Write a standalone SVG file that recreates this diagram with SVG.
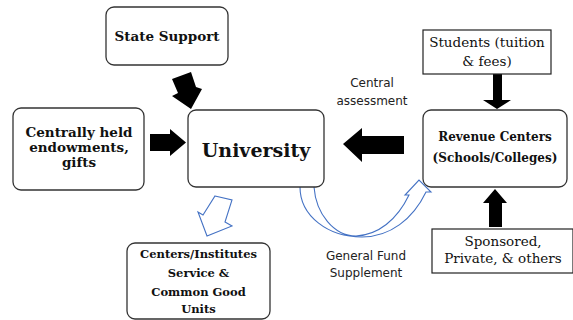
<svg xmlns="http://www.w3.org/2000/svg" width="573" height="320" viewBox="0 0 573 320">
  <style>
    .box { fill: #ffffff; stroke: #333333; stroke-width: 1.3; }
    .sq { fill: #ffffff; stroke: #222222; stroke-width: 1.2; }
    .bold { font-family: "DejaVu Serif", "Liberation Serif", serif; font-weight: bold; fill: #111111; text-anchor: middle; }
    .plain { font-family: "DejaVu Serif", "Liberation Serif", serif; fill: #111111; text-anchor: middle; }
    .sans { font-family: "DejaVu Sans", "Liberation Sans", sans-serif; fill: #222222; text-anchor: middle; font-size: 12px; }
    .solid { fill: #000000; stroke: none; }
    .hollow { fill: none; stroke: #4472c4; stroke-width: 1.1; stroke-linejoin: miter; }
  </style>

  <rect width="573" height="320" fill="#ffffff"/>

  <!-- flows between the funding sources and the university -->
  <g id="connectors">
    <!-- state support into university -->
    <polygon class="solid" points="172,79 191,72 196,87 202,89 191,109 172,96 178,93"/>
    <!-- endowments into university -->
    <polygon class="solid" points="150,134 170,134 170,129 186,142.5 170,156 170,151 150,151"/>
    <!-- central assessment from revenue centers -->
    <polygon class="solid" points="404,136 362,136 362,128 343,144 362,162 362,154 404,154"/>
    <!-- students into revenue centers -->
    <polygon class="solid" points="493,74 502,74 502,100 511,100 497,109 483,100 493,100"/>
    <!-- sponsored into revenue centers -->
    <polygon class="solid" points="489,227 502,227 502,203 507,203 495,189 483,203 489,203"/>
    <!-- university out to centers/institutes -->
    <polygon class="hollow" points="215,196 232,200 225,222 232,226 207,236 198,212 203,215"/>
    <!-- general fund supplement back to revenue centers -->
    <path class="hollow" d="M300,187 C300,216 328,237 362,237 C390,237 413,219 426,192 L431,192 L419,180 L405,195 L409,195 C397,220 378,235 356,236 C334,236 316,214 314,187"/>
    <text class="sans" x="372" y="87">Central</text>
    <text class="sans" x="372" y="105">assessment</text>
    <text class="sans" x="366" y="260">General Fund</text>
    <text class="sans" x="366" y="277">Supplement</text>
  </g>

  <g id="state-support">
    <rect class="box" x="106" y="7" width="122" height="58" rx="8"/>
    <text class="bold" x="167" y="41" font-size="13.5">State Support</text>
  </g>

  <g id="endowments">
    <rect class="box" x="13" y="108" width="131" height="82" rx="8"/>
    <text class="bold" x="79" y="137" font-size="13.5">Centrally held</text>
    <text class="bold" x="79" y="152" font-size="13.5">endowments,</text>
    <text class="bold" x="79" y="167" font-size="13.5">gifts</text>
  </g>

  <g id="university">
    <rect class="box" x="188" y="110" width="136" height="77" rx="8"/>
    <text class="bold" x="256" y="157" font-size="19">University</text>
  </g>

  <g id="students">
    <rect class="sq" x="423" y="30" width="128" height="44"/>
    <text class="plain" x="487" y="47" font-size="13.5">Students (tuition</text>
    <text class="plain" x="487" y="66" font-size="13.5">&amp; fees)</text>
  </g>

  <g id="revenue-centers">
    <rect class="box" x="423" y="110" width="144" height="77" rx="8"/>
    <text class="bold" x="495" y="141" font-size="12">Revenue Centers</text>
    <text class="bold" x="495" y="162" font-size="12">(Schools/Colleges)</text>
  </g>

  <g id="sponsored">
    <rect class="sq" x="432" y="229" width="141" height="44"/>
    <text class="plain" x="503" y="246" font-size="13.5">Sponsored,</text>
    <text class="plain" x="503" y="263" font-size="13.5">Private, &amp; others</text>
  </g>

  <g id="centers-institutes">
    <rect class="box" x="127" y="243" width="143" height="76" rx="8"/>
    <text class="bold" x="198.5" y="258" font-size="11.5">Centers/Institutes</text>
    <text class="bold" x="198.5" y="277" font-size="11.5">Service &amp;</text>
    <text class="bold" x="198.5" y="296" font-size="11.5">Common Good</text>
    <text class="bold" x="198.5" y="313" font-size="11.5">Units</text>
  </g>
</svg>
